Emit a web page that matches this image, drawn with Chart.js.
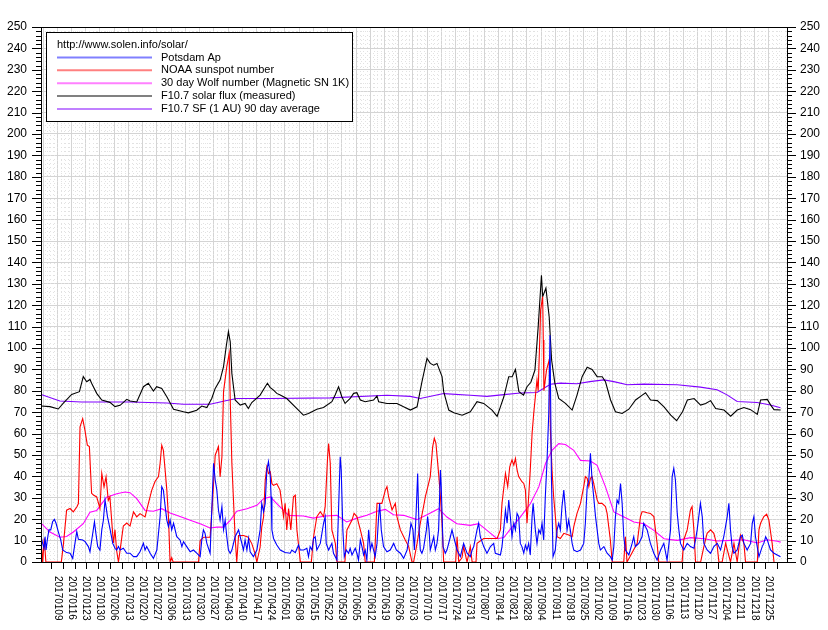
<!DOCTYPE html>
<html>
<head>
<meta charset="utf-8">
<script src="https://cdn.jsdelivr.net/npm/chart.js@4.4.1/dist/chart.umd.min.js"></script>
<style>
  html, body { margin: 0; padding: 0; background: #fff; }
  #wrap { width: 828px; height: 630px; }
</style>
</head>
<body>
<div id="wrap"><canvas id="chart" width="828" height="630"></canvas></div>
<script>
// week labels on the x axis (Mondays)
const weekLabels = [
  '20170109','20170116','20170123','20170130','20170206','20170213','20170220','20170227',
  '20170306','20170313','20170320','20170327','20170403','20170410','20170417','20170424',
  '20170501','20170508','20170515','20170522','20170529','20170605','20170612','20170619',
  '20170626','20170703','20170710','20170717','20170724','20170731','20170807','20170814',
  '20170821','20170828','20170904','20170911','20170918','20170925','20171002','20171009',
  '20171016','20171023','20171030','20171106','20171113','20171120','20171127','20171204',
  '20171211','20171218','20171225'
];

// [day of year (0 = 1 Jan 2017), value]
const apData = [
  [0,12.1],[0.8,8.7],[1.5,6.4],[2,11.8],[2.5,5.6],[3.1,10.3],[3.9,15],[4.8,15],[5.7,18.8],[6.6,19.9],[7.4,18.1],[8.5,14.2],[9.7,10.3],[10.7,5.6],[12.6,4.4],[14.3,4.1],[15.6,1.7],[16.7,8.7],[17.6,14.2],[18.4,10.6],[20.5,10.3],[21.7,9.5],[23.3,7.2],[24.1,4.8],[26.3,18.8],[27,13.4],[27.9,7.2],[29,5.6],[29.9,15],[30.7,19.6],[31.5,29],[32,25.9],[32.7,21.2],[33.9,15.7],[35.3,8.7],[36.4,6.4],[37.2,5.6],[38.1,7.2],[38.9,5.6],[40.5,6.4],[42.2,4.1],[43.8,4.1],[45.5,2.5],[47.1,2.5],[48.7,4.8],[50.4,8.7],[51.2,5.6],[52,7.2],[53.7,4.1],[55.3,1.7],[57,5.6],[58.6,21.2],[59.4,35.2],[60.2,33.6],[61.1,25.9],[61.9,19.6],[62.7,16.5],[63.5,19.6],[64.3,15],[65.2,18.1],[66.8,11.8],[68.4,10.3],[69.3,7.2],[70.1,9.5],[71.7,7.2],[73.4,4.8],[75,5.6],[76.6,4.1],[78.3,2.5],[79.1,10.3],[79.9,15],[80.7,13.4],[81.6,8.7],[83.2,4.1],[84.9,46.1],[85.7,38.3],[86.5,33.6],[87.3,24.3],[88.1,19.6],[89,25.9],[89.8,15],[90.6,19.6],[91.4,11.8],[92.2,5.6],[93.1,4.1],[93.9,5.6],[94.7,8.7],[95.5,11.8],[97.2,15],[98,11.8],[98.8,8.7],[99.6,5.6],[100.4,10.3],[101.3,5.6],[102.1,11],[102.9,4.8],[104.5,2.5],[106.2,5.6],[107.8,15],[108.6,27.4],[109.5,23.5],[110.3,27.4],[111.1,43],[111.9,46.9],[112.8,39.9],[113.2,30.5],[113.6,15],[114.4,11],[116,7.9],[117.7,5.6],[120.1,4.4],[122.6,4.1],[123.4,5.6],[125.1,4.4],[126.7,7.9],[127.5,5.6],[129.2,5.6],[130.8,6.4],[131.6,2.5],[132.4,7.2],[133.3,5.6],[134.1,11],[134.9,11.8],[135.7,5.6],[137.4,8.7],[139,18.1],[139.8,21.2],[140.3,8.7],[141.5,5.6],[143.1,8.7],[143.9,4.1],[145.6,0.9],[147.2,49.2],[147.7,43],[148.5,15],[149.2,2.5],[150.2,5.6],[151.3,4.1],[152.1,6.4],[153,3.3],[154.6,6.4],[155.4,4.1],[156.2,0.9],[157.1,10.3],[157.9,7.2],[158.7,3.3],[159.5,5.6],[160.3,0.9],[161.2,15],[162,5.6],[162.8,8.7],[164.4,2.5],[165.3,8.7],[166.1,21.2],[166.6,27.4],[167.4,15],[168.5,7.2],[170.2,4.8],[171.8,5.6],[173.5,8.7],[174.8,5.6],[176.8,4.1],[178.4,1.7],[180.1,5.6],[181.4,13.4],[182,18.1],[183,15],[183.7,5.6],[184.6,24.3],[185.3,41.4],[186,15],[186.6,5.6],[187.4,4.1],[188.2,6.4],[189.6,15],[190.2,21.2],[190.9,15],[191.5,5.6],[193.2,11.8],[194,5.6],[194.8,8.7],[195.6,15],[196.5,43],[196.9,35.2],[197.8,7.2],[198.9,4.1],[199.7,5.6],[201.4,11.8],[202.2,15],[203,11.8],[204.7,5.6],[206.3,2.5],[207.9,8.7],[209.6,4.1],[211.2,2.5],[212.1,5.6],[212.9,7.2],[214.5,15],[215.3,18.1],[216.1,11.8],[217.8,7.2],[219.4,4.1],[221.1,7.2],[222.7,8.7],[223.5,4.1],[226,3.3],[226.8,7.2],[227.6,15],[228.5,24.3],[229.3,18.1],[230.1,29],[230.9,21.2],[231.7,11.8],[232.6,18.1],[233.4,15],[234.2,22.7],[235,21.2],[235.8,8.7],[236.6,7.2],[237.5,4.1],[238.3,7.9],[239.1,5.6],[239.9,8.7],[240.7,3.3],[241.6,21.2],[242.1,27.4],[243.2,15],[244,8.7],[244.9,15],[245.7,13.4],[246.5,18.1],[247.3,10.3],[248.1,30.5],[248.9,46.1],[249.8,69.5],[250.4,106],[251.1,40],[251.9,2.5],[253,5.6],[253.9,15],[254.7,18.1],[255.5,15],[256.3,25.9],[257.2,33.6],[258,24.3],[258.8,15],[259.6,19.6],[260.4,15],[261.3,8.7],[262.1,5.6],[263.7,4.8],[265.4,5.6],[267,8.7],[267.8,18.1],[268.7,35.2],[269.5,38.3],[270.3,50.8],[271.1,38.3],[271.9,30.5],[272.8,21.2],[273.6,15],[274.4,8.7],[275.2,5.6],[276.9,7.2],[278.5,4.1],[280.1,2.5],[281,0.9],[281.8,7.2],[282.6,21.2],[283.4,29],[284.2,27.4],[285.1,36.7],[285.9,27.4],[286.7,11.8],[287.5,5.6],[289.2,3.3],[290.8,8.7],[291.6,11.8],[292.4,7.2],[294.1,8.7],[295.7,11.8],[296.5,18.1],[297.4,16.5],[298.2,15],[299.8,8.7],[301.5,4.1],[303.1,0.9],[304.8,5.6],[306.4,8.7],[308,0.9],[309.7,15],[310.5,39.9],[311.3,43.8],[312.1,38.3],[313,22.7],[313.8,15],[314.6,8.7],[316.2,5.6],[317.9,8.7],[319.5,7.2],[321.2,6.4],[322,10.3],[322.8,15],[323.6,21.2],[324.4,27.4],[325.3,21.2],[326.1,8.7],[327.7,5.6],[329.4,4.1],[331,7.2],[332.7,8.7],[334.3,5.6],[335.9,11.8],[337.6,21.2],[338.4,27.4],[339.2,15],[340,7.2],[340.9,4.1],[342.5,5.6],[344.1,11.8],[345,12.6],[345.8,8.7],[347.4,5.6],[349.1,8.7],[349.9,18.1],[350.7,21.2],[351.5,11.8],[353.2,2.5],[354.8,7.2],[355.6,8.7],[356.5,11.8],[357.3,10.3],[358.1,7.9],[358.9,5.6],[360.6,4.1],[362.2,3.3],[363.8,2.5]
];

const sunspotData = [
  [0,11],[0.8,0],[1.6,11],[2.4,0],[10,0],[11,8],[12.6,24.2],[14.3,25],[15.9,23.4],[17.6,25.7],[18.4,27.3],[19.2,63.2],[20.5,67],[21.6,61.6],[22.8,54.6],[23.8,53.9],[24.9,32.1],[25.8,31.3],[27.4,30.4],[29,25],[29.9,41.4],[31,35.1],[32,39.8],[33.1,28.8],[33.9,30.4],[35.6,8.9],[36.4,15.1],[37.2,5.4],[38.1,0],[38.9,5.4],[40.5,16.8],[42.2,18.2],[43.8,16.8],[45.5,23.4],[47.1,21.1],[48.7,22.6],[51.2,21.1],[52.8,27.3],[54.5,33.6],[56.1,37.6],[57.8,39.9],[58.6,46.1],[59.4,54.6],[60.2,52.2],[61.1,42.6],[61.9,33.6],[62.7,21.1],[63.5,0],[64.3,2],[65,0],[77.5,0],[78.3,10],[80,11.6],[83.2,11.6],[84.5,30.4],[85.7,49.9],[87.3,53.9],[88.1,39.8],[89,49.1],[89.8,79.6],[91.4,91.3],[92.6,97.6],[93.1,75.7],[93.9,46],[95.5,11.6],[96.3,0],[97.2,12.4],[99.6,12.4],[102,11.6],[103.7,8.6],[105.3,3.9],[106.2,0],[107.8,7],[108.6,16.3],[109.5,21],[110.3,38.1],[111.1,44.4],[111.9,41.4],[112.8,42.1],[113.6,36.6],[114.4,35.8],[116,36.6],[117.6,33.6],[119.3,21.2],[120.1,27.4],[120.9,15],[121.8,25],[122.9,15],[124.2,30.5],[125.1,31.2],[125.9,15],[127.6,0],[133,0],[134.1,11.8],[135.7,21.2],[137.4,23.5],[139,21.2],[139.8,25.9],[141,49.2],[141.5,55.4],[142.3,46.1],[143.1,15],[144.8,8.7],[145.6,0],[149.5,0],[150.5,15],[153,19.6],[154,22.7],[155.4,21.2],[157.1,15],[158.7,8.7],[159.5,0],[164,0],[165.3,27.4],[167.7,27.4],[169.4,33.6],[170.2,35.2],[171,30.5],[172.7,24.3],[174.3,27.4],[175.1,21.2],[176.8,15],[179.2,10.3],[180.9,7.2],[182.5,0],[183.3,0],[185,8.7],[186.6,18.1],[188.2,25.9],[189.1,30.5],[190.7,36.7],[191.5,39.9],[192.7,53.9],[193.5,57.8],[194.3,55.4],[195.6,41.4],[196.5,30.5],[197.3,18.1],[198.1,0],[204,0],[204.7,11.8],[205.5,0],[207.1,2],[207.9,7.2],[209.6,0],[211.2,7.2],[212.1,0],[214,0],[214.5,8.7],[217.8,11],[224.4,11],[226,15],[226.8,27.4],[228.5,41.4],[229.6,35.2],[230.6,44.5],[231.7,47.7],[232.6,45.3],[233.4,48.4],[234.2,43],[235,39.9],[236.6,37.5],[237.5,36.7],[238.3,33.6],[239.1,18.1],[239.9,30.5],[240.7,43],[241.6,60.1],[242.4,69.5],[243.2,77.2],[244,85],[244.6,80],[245.8,117.8],[246.8,124],[247.1,103.7],[247.4,80],[248.7,89.7],[250,94.4],[250.6,61.7],[251.4,43],[252.2,30.5],[253.9,11.8],[255.5,11],[257.2,13.4],[259.6,12.6],[261.3,11.8],[262.1,16.5],[263.7,22.7],[265.4,27.4],[267,35.2],[267.8,39.9],[268.7,39.1],[269.5,35.2],[270.3,39.1],[271.1,39.9],[271.9,36.7],[273.6,29],[274.4,27.4],[276,27.4],[277.7,25.9],[278.5,22.7],[280.1,10.3],[281,0],[286.7,0],[287.5,11.8],[288.3,0],[293.3,8.7],[294.9,21.2],[295.7,23.5],[296.5,23.5],[298.2,23],[299.8,22.7],[301.5,21.2],[303.1,8.7],[303.9,0],[315.4,0],[316.2,10.3],[317.9,15],[319.5,24.3],[320.3,25.9],[321.2,15],[322,0],[324.5,0],[326.1,7.2],[327.7,13.4],[329.4,15],[331,13.4],[332.7,7.2],[333.5,0],[335.1,0],[336.8,8.7],[339.2,0],[340.9,8.7],[342.5,0],[344.1,12.6],[345.8,8.7],[346.6,0],[352.4,0],[353.2,15],[354,18.1],[355.6,21.2],[357,22.3],[358.1,19.6],[359.7,8.7],[360.6,0]
];

const wolf30Data = [
  [0,18.2],[4.4,14],[9.3,11.6],[12.6,11.9],[15.9,14],[20.8,17.9],[24.1,23.3],[27.4,24.1],[32.3,30.3],[37.3,31.9],[41.3,32.7],[43.8,32.4],[47.1,29.6],[51.2,24.1],[55.3,23.7],[59.4,24.9],[63.5,22.9],[68.4,21.3],[73.4,19.5],[78.3,17.9],[83.2,15.9],[86.5,16.3],[89.8,16.3],[93.1,19.5],[96.3,23.7],[101.3,24.9],[106.2,26.5],[109.5,29.6],[112.8,30.4],[116,27.3],[121.8,21.8],[129.1,21.5],[134,20.5],[139.8,21.5],[145.5,21.8],[150.4,18.7],[155.4,20.5],[160.3,21.8],[165.3,23.7],[169.4,24.6],[173.4,22.1],[178.4,21.8],[184.9,19.8],[189.9,22.1],[195.6,24.9],[199.7,21],[204.6,17.9],[211.2,17.1],[215.3,17.9],[219.4,14.8],[224.4,10.9],[227.7,11.4],[231,15.5],[235.8,21],[240.8,27.3],[244.9,35.1],[248.2,46],[251.4,52.2],[254.7,55.3],[258,54.9],[262.1,52.2],[265.4,47.5],[270.3,47.2],[273.6,45.2],[277.7,35.1],[281.8,23.4],[286.8,21],[291.7,18.7],[296.6,17.9],[301.5,14.8],[306.5,10.9],[313,10.1],[319.6,11.4],[326.2,10.9],[332.7,9.8],[339.3,10.1],[345.8,10.4],[352.4,8.9],[357.3,10.4],[362.2,9.7],[363.9,9.3]
];

const fluxData = [
  [0,72.9],[4.4,72.6],[8.5,71.5],[11,74.2],[15.1,78.3],[18.9,79.6],[20.8,86.6],[22.5,84.2],[24.1,85.3],[24.9,83.5],[27.4,78.8],[29.9,75.7],[33.9,74.6],[36.4,72.6],[38.9,73.2],[42.2,76],[43.8,75.2],[47.1,74.8],[50.4,81.9],[52.8,83.5],[55.3,79.9],[56.9,81.9],[59.4,81.1],[61.9,77.2],[65.2,71.4],[70.1,70.2],[72.5,69.7],[76.6,70.9],[79.1,72.9],[81.6,72.2],[84,76.4],[85.7,81.1],[88.1,85],[89.8,91.3],[91.1,100.6],[92.2,107.6],[93.1,102.9],[93.9,88.1],[95.5,75.7],[98,73.3],[100.4,74.1],[102,71.7],[103.7,74.5],[107.8,78],[110.3,81.9],[111.4,83.5],[112.7,81.6],[114.4,80.3],[116,78.8],[117.7,78],[120.9,76.4],[125.9,71.7],[129.1,68.6],[131.6,69.4],[135.7,71.4],[139,72.2],[143.1,74.9],[144.7,78],[146.4,81.9],[148,77.2],[149.6,74.1],[152.1,76.4],[153.8,78.8],[155.4,79.1],[157.1,75.7],[159.5,74.9],[163.6,75.7],[165.3,77.6],[166.1,74.9],[170.2,74.1],[175.1,74.1],[178.4,72.5],[181.7,71],[185,72.5],[187.4,84.2],[189.9,95.1],[191.5,92.8],[193.2,92],[194.8,92.8],[197.3,86.6],[198.1,79.6],[200.6,71],[203.1,69.7],[207.2,68.6],[211.2,70.2],[214.5,74.9],[217.8,74.1],[221.9,71],[224.4,68.1],[226,72.5],[227.7,77.2],[230.1,86.6],[231.8,86.6],[233.4,90],[235.1,79.6],[237.4,78],[239.1,81.9],[241,84],[243,89.7],[244.6,110],[246.2,134],[246.8,124],[248.4,128],[250,114.6],[251.2,94.4],[252.8,83.5],[254.7,76.4],[258,74.1],[261.3,71],[263.7,78],[266.2,86.6],[268.7,91],[271.1,90],[273.6,86.6],[276.1,86.6],[277.7,84.2],[280.2,75.7],[282.6,70.2],[285.9,69.4],[289.2,71.4],[292.5,75.7],[295.8,78],[297.4,79.1],[299.9,75.7],[303.2,75.4],[306.5,72.5],[309.8,68.6],[312.7,66],[315.6,70.2],[318,75.7],[321.3,76.4],[324.5,73.3],[327,74.1],[329.4,75.4],[331.9,71.7],[336,71],[339.3,68.1],[342.5,71],[345.8,72.2],[349.1,71.2],[352.4,69],[354,75.7],[357.3,76],[359,73.3],[360.6,71.2],[363.9,71]
];

const flux90Data = [
  [0,78.3],[9.3,75.2],[20,74.8],[43.8,74.8],[61.9,74.3],[70.1,73.7],[83.2,73.7],[91.4,75.5],[96.3,76.4],[112.7,76.4],[142.3,76.7],[170.2,77.9],[181.7,77.4],[186.6,76.4],[198.1,78.7],[211.2,77.9],[219.4,77.4],[227.7,78.2],[235.9,79],[244,79.2],[250.6,83.1],[255.5,83.6],[263.7,83.3],[270,84.3],[276.9,85.1],[281.8,84.3],[288.4,82.8],[296.6,83.1],[313,82.8],[324.4,81.7],[332.6,80.5],[337.5,78.1],[342.5,75],[352.3,74.5],[358.9,73.4],[363.8,72.1]
];

const legendTitle = 'http://www.solen.info/solar/';
const seriesNames = [
  'Potsdam Ap',
  'NOAA sunspot number',
  '30 day Wolf number (Magnetic SN 1K)',
  'F10.7 solar flux (measured)',
  'F10.7 SF (1 AU) 90 day average'
];
const lineColors = ['#0000ff', '#ff0000', '#ff00ff', '#000000', '#8000ff'];
const swatchColors = ['#8080ff', '#ff8080', '#ff80ff', '#808080', '#c080ff'];

const FONT = '"Liberation Sans", Arial, sans-serif';

function dayOf(s) {
  return (Date.UTC(+s.slice(0, 4), +s.slice(4, 6) - 1, +s.slice(6, 8)) - Date.UTC(2017, 0, 1)) / 86400000;
}
const weekDays = weekLabels.map(dayOf);

function toPoints(arr) {
  return arr.map(p => ({ x: p[0], y: p[1] }));
}

// grid, ticks, rotated date labels and the legend box
const decor = {
  id: 'decor',
  beforeDatasetsDraw(chart) {
    const { ctx, chartArea: a, scales: { x, y } } = chart;
    ctx.save();
    ctx.strokeStyle = '#e2e2e2';
    ctx.lineWidth = 1;
    ctx.setLineDash([1, 3]);
    for (let v = 2; v < 250; v += 2) {
      if (v % 10 === 0) continue;
      const py = Math.round(y.getPixelForValue(v)) + 0.5;
      ctx.beginPath(); ctx.moveTo(a.left, py); ctx.lineTo(a.right, py); ctx.stroke();
    }
    for (let d = 1; d < 367; d += 1.75) {
      if (Math.abs((d - 1) % 7) < 0.01) continue;
      const px = Math.round(x.getPixelForValue(d)) + 0.5;
      ctx.beginPath(); ctx.moveTo(px, a.top); ctx.lineTo(px, a.bottom); ctx.stroke();
    }
    ctx.restore();
  },
  afterDraw(chart) {
    const { ctx, chartArea: a, scales: { x, y } } = chart;
    ctx.save();
    ctx.strokeStyle = '#000';
    ctx.lineWidth = 1;
    ctx.strokeRect(a.left + 0.5, a.top + 0.5, a.right - a.left, a.bottom - a.top);

    // y ticks on both sides
    ctx.beginPath();
    for (let v = 0; v <= 250; v += 2) {
      const py = Math.round(y.getPixelForValue(v)) + 0.5;
      const len = v % 10 === 0 ? 9 : 5;
      ctx.moveTo(a.left - len, py); ctx.lineTo(a.left, py);
      ctx.moveTo(a.right, py); ctx.lineTo(a.right + len, py);
    }
    // x ticks
    for (let d = 4.8; d < 367; d += 5.86) {
      const px = Math.round(x.getPixelForValue(d)) + 0.5;
      ctx.moveTo(px, a.bottom); ctx.lineTo(px, a.bottom + 7);
    }
    ctx.stroke();

    // date labels, reading top to bottom
    ctx.fillStyle = '#000';
    ctx.font = '10px ' + FONT;
    ctx.textAlign = 'left';
    ctx.textBaseline = 'middle';
    weekLabels.forEach((lab, i) => {
      const px = x.getPixelForValue(weekDays[i]);
      ctx.save();
      ctx.translate(px, a.bottom + 14);
      ctx.rotate(Math.PI / 2);
      ctx.fillText(lab, 0, 0);
      ctx.restore();
    });

    // legend box
    const bx = 46, by = 32, bw = 306, bh = 89;
    ctx.fillStyle = '#fff';
    ctx.fillRect(bx, by, bw, bh);
    ctx.strokeStyle = '#000';
    ctx.lineWidth = 1;
    ctx.strokeRect(bx + 0.5, by + 0.5, bw, bh);
    ctx.fillStyle = '#000';
    ctx.font = '11px ' + FONT;
    ctx.fillText(legendTitle, 57, 45);
    seriesNames.forEach((name, i) => {
      const ly = 57.5 + i * 12.85;
      ctx.strokeStyle = swatchColors[i];
      ctx.lineWidth = 2;
      ctx.beginPath(); ctx.moveTo(57, ly); ctx.lineTo(152, ly); ctx.stroke();
      ctx.fillStyle = '#000';
      ctx.fillText(name, 161, ly);
    });
    ctx.restore();
  }
};

const yAxisBase = {
  min: 0,
  max: 250,
  ticks: { stepSize: 10, color: '#000', font: { family: FONT, size: 12 } },
  border: { display: false },
  grid: { drawTicks: false, color: '#d4d4d4' }
};

new Chart(document.getElementById('chart'), {
  type: 'line',
  data: {
    datasets: [apData, sunspotData, wolf30Data, fluxData, flux90Data].map((d, i) => ({
      label: seriesNames[i],
      data: toPoints(d),
      borderColor: lineColors[i],
      backgroundColor: lineColors[i],
      borderWidth: 1.1,
      pointRadius: 0,
      tension: 0,
      fill: false
    }))
  },
  options: {
    responsive: false,
    animation: false,
    devicePixelRatio: 1,
    layout: { padding: { top: 27, left: 0, right: 0, bottom: 0 } },
    plugins: { legend: { display: false }, tooltip: { enabled: false } },
    scales: {
      x: {
        type: 'linear',
        min: 0,
        max: 367,
        afterBuildTicks: s => { s.ticks = [1].concat(weekDays).map(v => ({ value: v })); },
        afterFit: s => { s.height = 68; },
        ticks: { display: false },
        border: { display: false },
        grid: { drawTicks: false, color: '#d4d4d4' }
      },
      y: {
        ...yAxisBase,
        position: 'left',
        ticks: { ...yAxisBase.ticks, padding: 14 },
        afterFit: s => { s.width = 41; }
      },
      y2: {
        ...yAxisBase,
        position: 'right',
        ticks: { ...yAxisBase.ticks, padding: 13 },
        grid: { drawOnChartArea: false, drawTicks: false },
        afterFit: s => { s.width = 41; }
      }
    }
  },
  plugins: [decor]
});
</script>
</body>
</html>
